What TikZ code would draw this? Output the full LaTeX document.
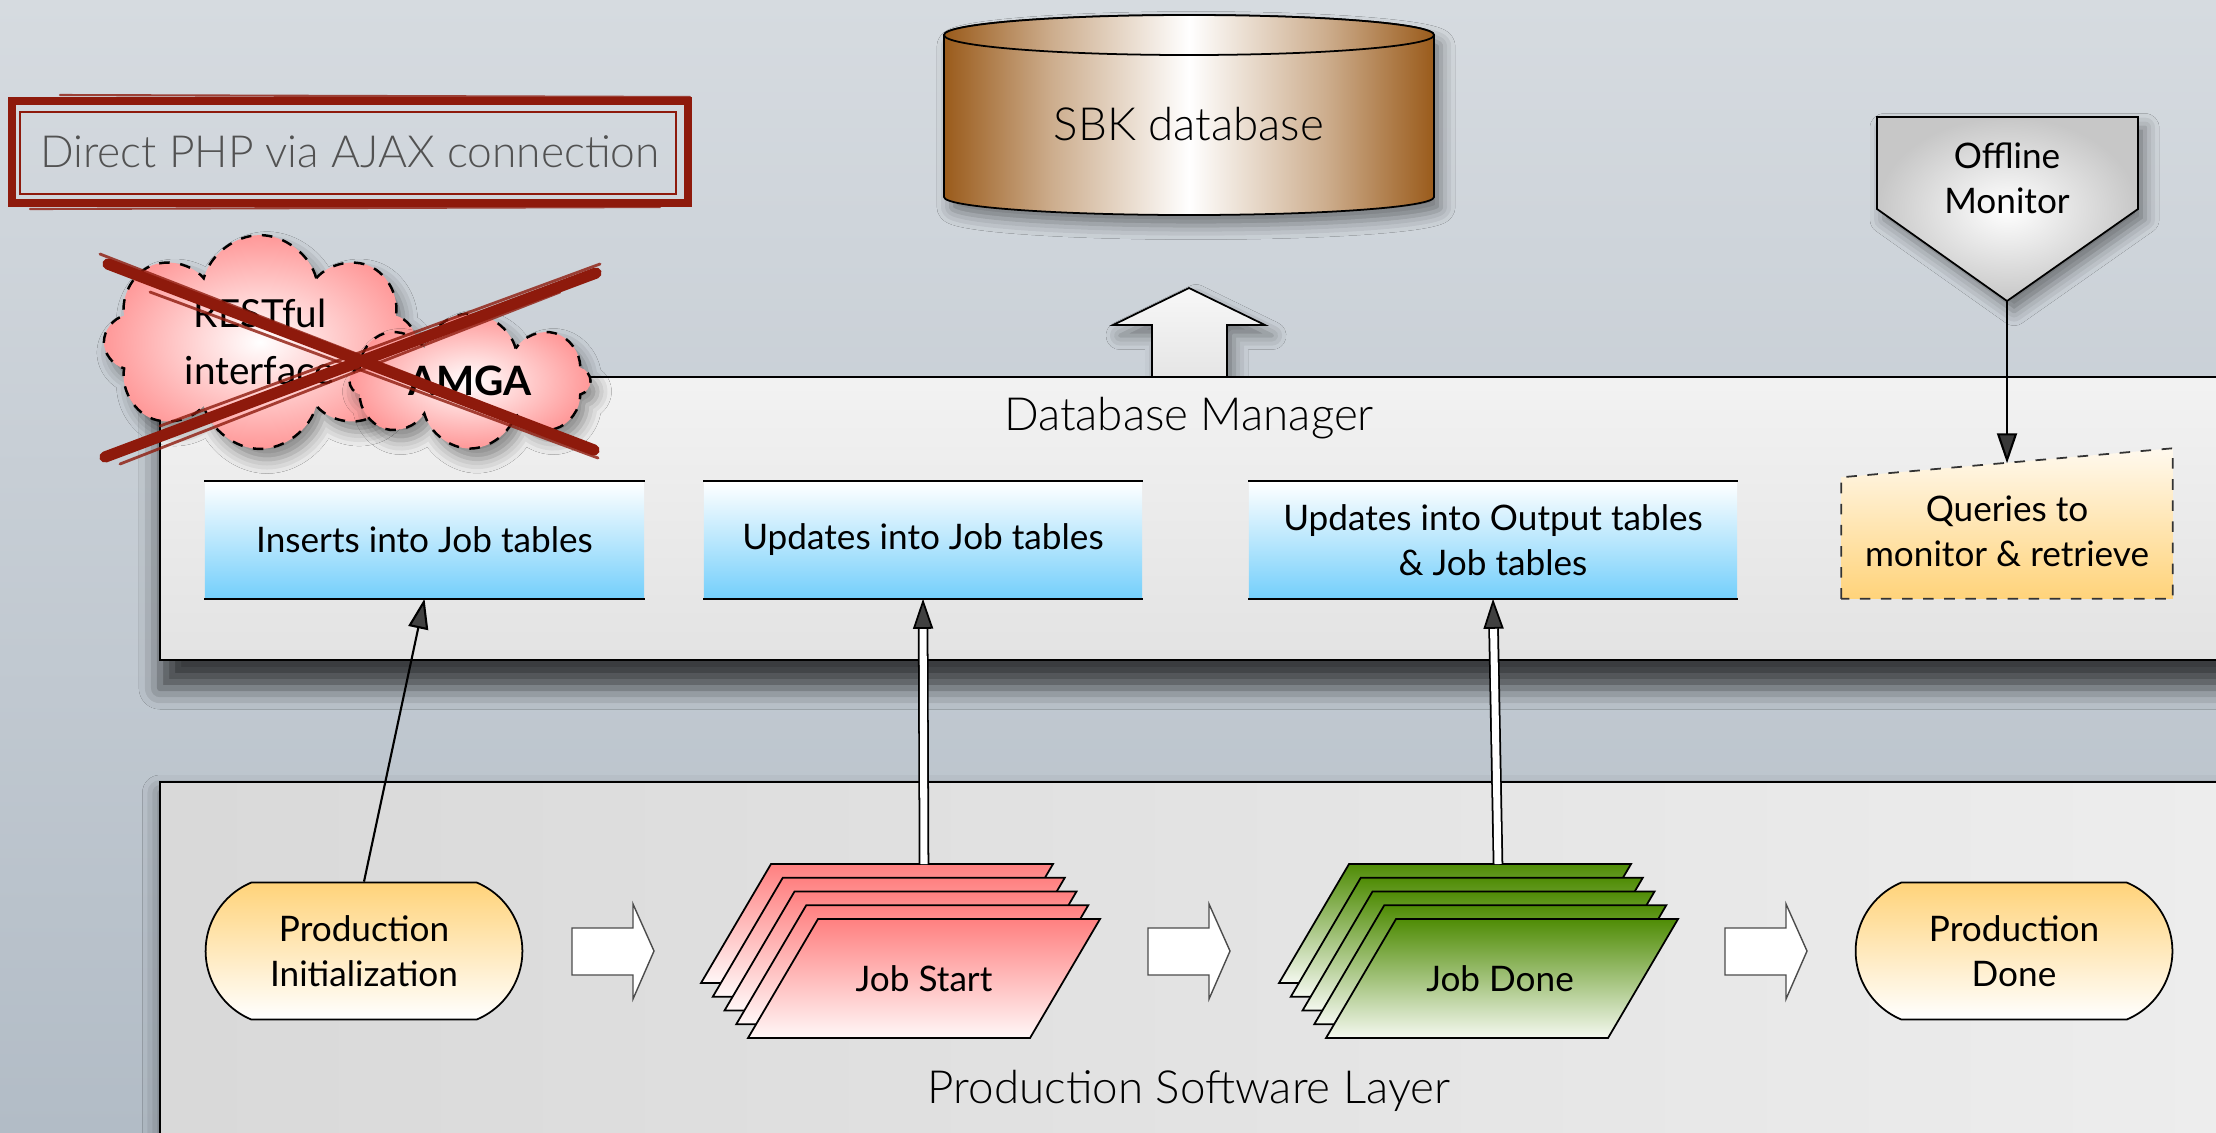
\documentclass[tikz,border=0pt]{standalone}
\usepackage{fontspec}
\setmainfont{Lato}
\newfontfamily\lightfont{Lato Light}
\usetikzlibrary{positioning, calc, arrows.meta, shapes.misc, shapes.symbols, shadows, shadows.blur}

\definecolor{bgtop}{HTML}{D6DBE0}
\definecolor{bgbot}{HTML}{B2BCC6}
\definecolor{xred}{HTML}{8E1A0C}
\definecolor{dbbrown}{HTML}{9A5B1B}
\definecolor{tblue}{HTML}{74CFFB}
\definecolor{porange}{HTML}{FFD37A}
\definecolor{qcream}{HTML}{FFF9EE}
\definecolor{cpink}{HTML}{FF9898}
\definecolor{jsred}{HTML}{FF8080}
\definecolor{jdgreen}{HTML}{4F8C05}

\pgfdeclarehorizontalshading{dbshade}{100bp}{color(0bp)=(dbbrown); color(25bp)=(dbbrown);
  color(36bp)=(white!50!dbbrown); color(50bp)=(white); color(64bp)=(white!50!dbbrown);
  color(75bp)=(dbbrown); color(100bp)=(dbbrown)}

\tikzset{
  bigtxt/.style={font=\lightfont\fontsize{13}{16}\selectfont, text=black},
  smalltxt/.style={font=\fontsize{10}{12.8}\selectfont, align=center},
  outline/.style={draw=black, line width=0.5pt},
  softshadow/.style={blur shadow={shadow xshift=2pt, shadow yshift=-3pt, shadow blur radius=4pt, shadow opacity=45}},
  tablebox/.style={smalltxt, rectangle, minimum height=1.16cm, top color=white, bottom color=tblue},
  endpoint/.style={smalltxt, rounded rectangle, rounded rectangle arc length=135, outline,
    top color=porange, bottom color=white, minimum width=3.4cm, minimum height=1.37cm},
  cloudy/.style={cloud, cloud puffs=8, cloud ignores aspect, draw=black, line width=0.7pt, dashed,
    inner color=white, outer color=cpink, softshadow, font=\fontsize{11}{16}\selectfont, align=center},
  flowarrow/.style={draw=black!70, fill=white, line width=0.4pt},
  link/.style={-{Triangle[length=0.3cm, width=0.2cm]}, line width=0.6pt},
  dbl/.style={double, double distance=2pt, line width=0.5pt, -{Triangle[length=0.3cm, width=0.2cm]}},
  strike/.style={draw=xred, line cap=round}
}

\begin{document}
\begin{tikzpicture}[x=0.01cm, y=-0.01cm]
  \useasboundingbox (0,0) rectangle (2216,1132);
  \clip (0,0) rectangle (2216,1132);
  \shade[top color=bgtop, bottom color=bgbot] (0,0) rectangle (2216,1132);

  % old connection, crossed out
  \draw[strike, line width=2.4pt] (12,101) rectangle (688,203);
  \draw[strike, line width=0.7pt] (20,112) rectangle (676,194);
  \draw[strike, line width=0.6pt, opacity=0.8] (60,95) -- (690,97);
  \draw[strike, line width=0.6pt, opacity=0.8] (30,209) -- (660,207);
  \node[bigtxt, font=\lightfont\fontsize{12.6}{15}\selectfont, text=black!68] (ajax) at (350,152) {Direct PHP via AJAX connection};

  % database
  \path[outline, shading=dbshade, softshadow]
    (944,35) -- (944,197) arc[start angle=180, end angle=0, x radius=245, y radius=18]
    -- (1434,35) arc[start angle=0, end angle=-180, x radius=245, y radius=20] -- cycle;
  \path[outline, shading=dbshade] (1189,35) ellipse[x radius=245, y radius=20];
  \node[bigtxt] (sbk) at (1189,124) {SBK database};

  % up to the database
  \path[outline, top color=black!3, bottom color=black!10, softshadow]
    (1152,376) -- (1152,325) -- (1113,325) -- (1189,288) -- (1265,325) -- (1227,325) -- (1227,376);

  % database manager layer
  \path[draw, line width=0.6pt, top color=black!5, bottom color=black!11,
    blur shadow={shadow xshift=0pt, shadow yshift=-8pt, shadow blur radius=6pt, shadow opacity=70}]
    (160,377) rectangle (2240,660);
  \node[bigtxt] (dbmlabel) at (1189,418) {Database Manager};

  \node[tablebox, minimum width=4.39cm] (ins)  at (424.5,540) {Inserts into Job tables};
  \node[tablebox, minimum width=4.38cm] (upd)  at (923,540)   {Updates into Job tables};
  \node[tablebox, minimum width=4.88cm] (outp) at (1493,540)  {Updates into Output tables\\\& Job tables};
  \foreach \b in {ins,upd,outp}
    \draw[line width=0.6pt] (\b.north west) -- (\b.north east) (\b.south west) -- (\b.south east);

  \node[minimum width=3.3cm, minimum height=1.34cm] (qry) at (2007,531) {};
  \path[draw=black!80, line width=0.5pt, dashed, top color=qcream, bottom color=porange]
    (qry.south west) -- ($(qry.north west)+(0,14)$) -- ($(qry.north east)+(0,-15)$) -- (qry.south east) -- cycle;
  \node[smalltxt] (qrytxt) at (qry.center) {Queries to\\monitor \& retrieve};

  % offline monitor
  \coordinate (montip) at (2007,301);
  \path[outline, inner color=white, outer color=black!22, softshadow]
    (1877,117) -- (2138,117) -- (2138,209) -- (montip) -- (1877,209) -- cycle;
  \node[smalltxt] (mon) at (2007,178) {Offline\\Monitor};
  \draw[link] (montip) -- (qry.north);

  % production software layer
  \path[draw, line width=0.6pt, left color=black!15, right color=black!7,
    blur shadow={shadow xshift=0pt, shadow yshift=-3pt, shadow blur radius=5pt, shadow opacity=50}]
    (160,782) rectangle (2240,1160);
  \node[bigtxt] (swlabel) at (1189,1091) {Production Software Layer};

  \node[endpoint] (init) at (364,951) {Production\\Initialization};
  \node[endpoint] (done) at (2014,951) {Production\\Done};

  \foreach \ax in {572,1148,1725}
    \draw[flowarrow] (\ax,928) -- ++(61,0) -- ++(0,-24) -- ++(21,47) -- ++(-21,48) -- ++(0,-24) -- ++(-61,0) -- cycle;

  % job stacks
  \foreach \k in {0,...,4} {
    \path[outline, top color=jsred, bottom color=jsred!6]
      ({748-11.75*(4-\k)},{1038-13.75*(4-\k)}) -- ++(282,0) -- ++(70,-119) -- ++(-282,0) -- cycle;
    \path[outline, top color=jdgreen, bottom color=jdgreen!6]
      ({1326-11.75*(4-\k)},{1038-13.75*(4-\k)}) -- ++(282,0) -- ++(70,-119) -- ++(-282,0) -- cycle;
  }
  \node[smalltxt] (jobstart) at (924,979) {Job Start};
  \node[smalltxt] (jobdone) at (1500,979) {Job Done};
  \coordinate (jsback) at (924,864);
  \coordinate (jdback) at (1498,864);

  \draw[link] (init.north) -- (ins.south);
  \draw[dbl] (jsback) -- (upd.south);
  \draw[dbl] (jdback) -- (outp.south);

  % alternatives, crossed out
  \node[cloudy, minimum width=3.12cm, minimum height=1.49cm] (rest) at (260,342) {RESTful\\interface};
  \node[cloudy, minimum width=2.41cm, minimum height=1.35cm, font=\fontsize{11.5}{14}\selectfont\bfseries] (amga) at (470,381) {AMGA};
  \draw[strike, line width=3.2pt] (108,264) -- (594,450);
  \draw[strike, line width=3.2pt] (105,457) -- (596,273);
  \draw[strike, line width=0.8pt, opacity=0.8] (100,254) -- (480,402);
  \draw[strike, line width=0.8pt, opacity=0.8] (150,292) -- (598,458);
  \draw[strike, line width=0.8pt, opacity=0.8] (120,464) -- (560,292);
  \draw[strike, line width=0.8pt, opacity=0.8] (160,426) -- (600,264);
\end{tikzpicture}
\end{document}
